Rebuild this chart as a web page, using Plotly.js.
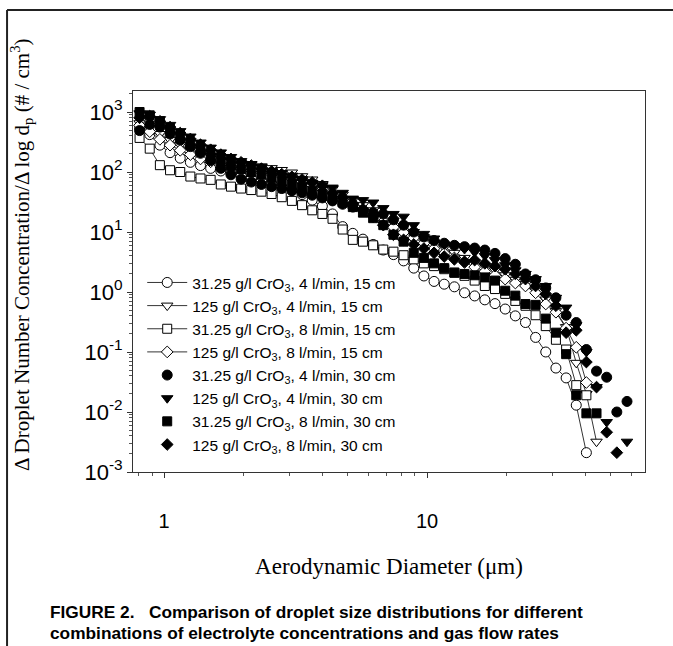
<!DOCTYPE html>
<html>
<head>
<meta charset="utf-8">
<script src="https://cdn.plot.ly/plotly-3.0.1.min.js"></script>
<style>
html,body{margin:0;padding:0;background:#fff;}
#chart{width:673px;height:646px;}
</style>
</head>
<body>
<div id="chart"></div>
<script>
// Aerodynamic diameter (um)
const dp = [0.8072,0.8823,0.9644,1.0542,1.1523,1.2594,1.3762,1.5041,1.6440,1.7968,1.9643,2.1468,2.3463,2.5645,2.8027,3.0633,3.3491,3.6604,4.0004,4.3723,4.7786,5.2224,5.7070,6.2404,6.8202,7.4541,8.1470,8.9043,9.7320,10.638,11.629,12.709,13.890,15.180,16.593,18.137,19.831,21.673,23.683,25.882,28.287,30.918,33.812,36.949,40.371,44.125,48.228,52.712,57.623];

const seriesNames = [
  "31.25 g/l CrO<sub>3</sub>, 4 l/min, 15 cm",
  "125 g/l CrO<sub>3</sub>, 4 l/min, 15 cm",
  "31.25 g/l CrO<sub>3</sub>, 8 l/min, 15 cm",
  "125 g/l CrO<sub>3</sub>, 8 l/min, 15 cm",
  "31.25 g/l CrO<sub>3</sub>, 4 l/min, 30 cm",
  "125 g/l CrO<sub>3</sub>, 4 l/min, 30 cm",
  "31.25 g/l CrO<sub>3</sub>, 8 l/min, 30 cm",
  "125 g/l CrO<sub>3</sub>, 8 l/min, 30 cm"
];

// dN/dlogdp (#/cm3)
const c31_4_15 = [550,420,280,210,170,145,128,115,104,95,87,80,73,65,57,49,42,34,27,20,12.3,9.5,7.6,6.2,5.0,4.2,3.3,2.5,1.85,1.5,1.35,1.22,0.97,0.86,0.74,0.64,0.52,0.40,0.31,0.175,0.10,0.054,0.037,0.013,0.0021];
const c125_4_15 = [650,540,430,340,280,235,205,185,168,155,143,133,124,116,108,98,85,75,63,52,42,34,28,23,19,15.5,12.5,10,8.2,6.7,5.5,4.5,3.7,3.1,2.7,2.3,1.9,1.6,1.35,1.05,0.75,0.48,0.26,0.066,0.02,0.0032];
const c31_8_15 = [370,245,130,107,100,84,78,74,62,57,53,50,47,43,38,33,28,23,20,16.6,11,7.4,6.9,6.0,5.1,4.7,4.1,3.5,3.0,2.7,2.4,2.1,1.86,1.55,1.26,1.12,0.93,0.71,0.59,0.41,0.27,0.16,0.11,0.028,0.019];
const c125_8_15 = [600,470,350,280,230,195,165,148,134,123,114,106,99,92,85,77,69,60,51,43,35,28,23,18.5,15,12,9.8,8,6.5,5.3,4.4,3.7,3.1,2.6,2.2,1.9,1.64,1.41,1.26,0.97,0.63,0.46,0.25,0.12,0.031];
const c31_4_30 = [490,620,560,430,340,265,205,155,115,90,76,68,62,57,53,49,45,41,37,33,29,26,23,21,20,16,13,10,8.3,7.2,6.5,6.0,5.7,5.4,5.0,4.4,3.6,2.9,2.0,1.6,1.17,0.8,0.41,0.31,0.11,0.048,0.038,0.01,0.015];
const c125_4_30 = [950,900,760,610,480,390,310,255,212,178,152,136,122,105,96,87,76,66,60,55,45,36,34,31,25,20,18,13,9.3,7.8,6.2,5.8,5.2,4.6,4.0,3.4,2.8,2.3,2.0,1.64,1.26,0.8,0.55,0.28,0.1,0.026,0.0068,null,0.0032];
const c31_8_30 = [1000,880,700,520,400,300,235,185,152,127,112,100,90,80,71,63,56,49,43,37,31,26,21,17,13,9,6.9,4.5,3.7,3.0,2.5,2.1,2.0,1.9,1.75,1.55,1.05,0.87,0.63,0.61,0.36,0.21,0.092,0.019,0.0095,0.0095];
const c125_8_30 = [800,850,700,560,445,355,285,235,195,165,145,128,114,102,92,83,75,67,59,45,38,30,24,18,13,9,7.4,6.2,5.3,4.5,3.9,3.5,3.2,3.4,3.0,2.7,2.4,2.0,1.64,1.26,0.93,0.59,0.21,0.23,0.068,0.026,0.0046,0.0021];

const seriesValues = [c31_4_15,c125_4_15,c31_8_15,c125_8_15,c31_4_30,c125_4_30,c31_8_30,c125_8_30];
const symbols = ["circle","triangle-down","square","diamond","circle","triangle-down","square","diamond"];
const sizes = [10,10,9,9,10,10,9,9];

const yTickVals = [1e-3,1e-2,1e-1,1e0,1e1,1e2,1e3];
const yTickText = ["10<sup>-3</sup>","10<sup>-2</sup>","10<sup>-1</sup>","10<sup>0</sup>","10<sup>1</sup>","10<sup>2</sup>","10<sup>3</sup>"];
const xTickVals = [1,10];
const xTickText = ["1","10"];

const traces = seriesValues.map((vals, i) => {
  const open = i < 4;
  return {
    x: dp.slice(0, vals.length),
    y: vals,
    name: seriesNames[i],
    type: "scatter",
    mode: open ? "lines+markers" : "markers",
    line: {color: "#000", width: 0.8},
    marker: {
      symbol: symbols[i],
      size: sizes[i],
      color: open ? "#fff" : "#000",
      line: {color: "#000", width: 1}
    }
  };
});

const sans = "Liberation Sans, Arial, sans-serif";
const serif = "Liberation Serif, Times New Roman, serif";

const layout = {
  width: 673, height: 646,
  margin: {l: 133, r: 28, t: 91, b: 174},
  paper_bgcolor: "#fff", plot_bgcolor: "#fff",
  showlegend: true,
  legend: {
    x: 0.018, y: 0.541, xanchor: "left", yanchor: "top",
    bgcolor: "rgba(0,0,0,0)", borderwidth: 0,
    font: {family: sans, size: 15.5, color: "#000"},
    itemwidth: 40, traceorder: "normal"
  },
  xaxis: {
    type: "log", range: [-0.118, 1.829],
    tickmode: "array", tickvals: xTickVals, ticktext: xTickText,
    ticks: "outside", ticklen: 5, tickcolor: "#333",
    ticklabelstandoff: 26,
    minor: {dtick: "D1", ticks: "outside", ticklen: 3, tickcolor: "#555", showgrid: false},
    showline: true, linecolor: "#333", linewidth: 1, mirror: true,
    showgrid: false, zeroline: false,
    tickfont: {family: sans, size: 20, color: "#000"},
    title: {text: "Aerodynamic Diameter (\u03bcm)", font: {family: serif, size: 23, color: "#000"}, standoff: 26},
    automargin: false
  },
  yaxis: {
    type: "log", range: [-3, 3.35],
    tickmode: "array", tickvals: yTickVals, ticktext: yTickText,
    ticks: "outside", ticklen: 5, tickcolor: "#333",
    minor: {dtick: "D1", ticks: "outside", ticklen: 3, tickcolor: "#555", showgrid: false},
    showline: true, linecolor: "#333", linewidth: 1, mirror: true,
    showgrid: false, zeroline: false,
    tickfont: {family: sans, size: 22, color: "#000"},
    automargin: false
  },
  annotations: [
    {xref: "paper", yref: "paper", x: -0.2168, y: 0.5696, xanchor: "center", yanchor: "middle", showarrow: false,
     textangle: -90,
     text: "\u0394 Droplet Number Concentration/\u0394 log d<sub>p</sub> (# / cm<sup>3</sup>)",
     font: {family: serif, size: 21, color: "#000"}},
    {xref: "paper", yref: "paper", x: -0.166, y: -0.3675, xanchor: "left", yanchor: "middle", showarrow: false,
     text: "<b>FIGURE 2.   Comparison of droplet size distributions for different</b>",
     font: {family: sans, size: 17.3, color: "#000"}},
    {xref: "paper", yref: "paper", x: -0.166, y: -0.4226, xanchor: "left", yanchor: "middle", showarrow: false,
     text: "<b>combinations of electrolyte concentrations and gas flow rates</b>",
     font: {family: sans, size: 17.3, color: "#000"}}
  ],
  shapes: [
    {type: "line", xref: "paper", yref: "paper", x0: -0.246, x1: 1.06, y0: 1.2126, y1: 1.2126, line: {color: "#222", width: 2}},
    {type: "line", xref: "paper", yref: "paper", x0: -0.246, x1: -0.246, y0: 1.2126, y1: -0.48, line: {color: "#222", width: 2}}
  ]
};

Plotly.newPlot("chart", traces, layout, {displayModeBar: false, staticPlot: true});
</script>
</body>
</html>
